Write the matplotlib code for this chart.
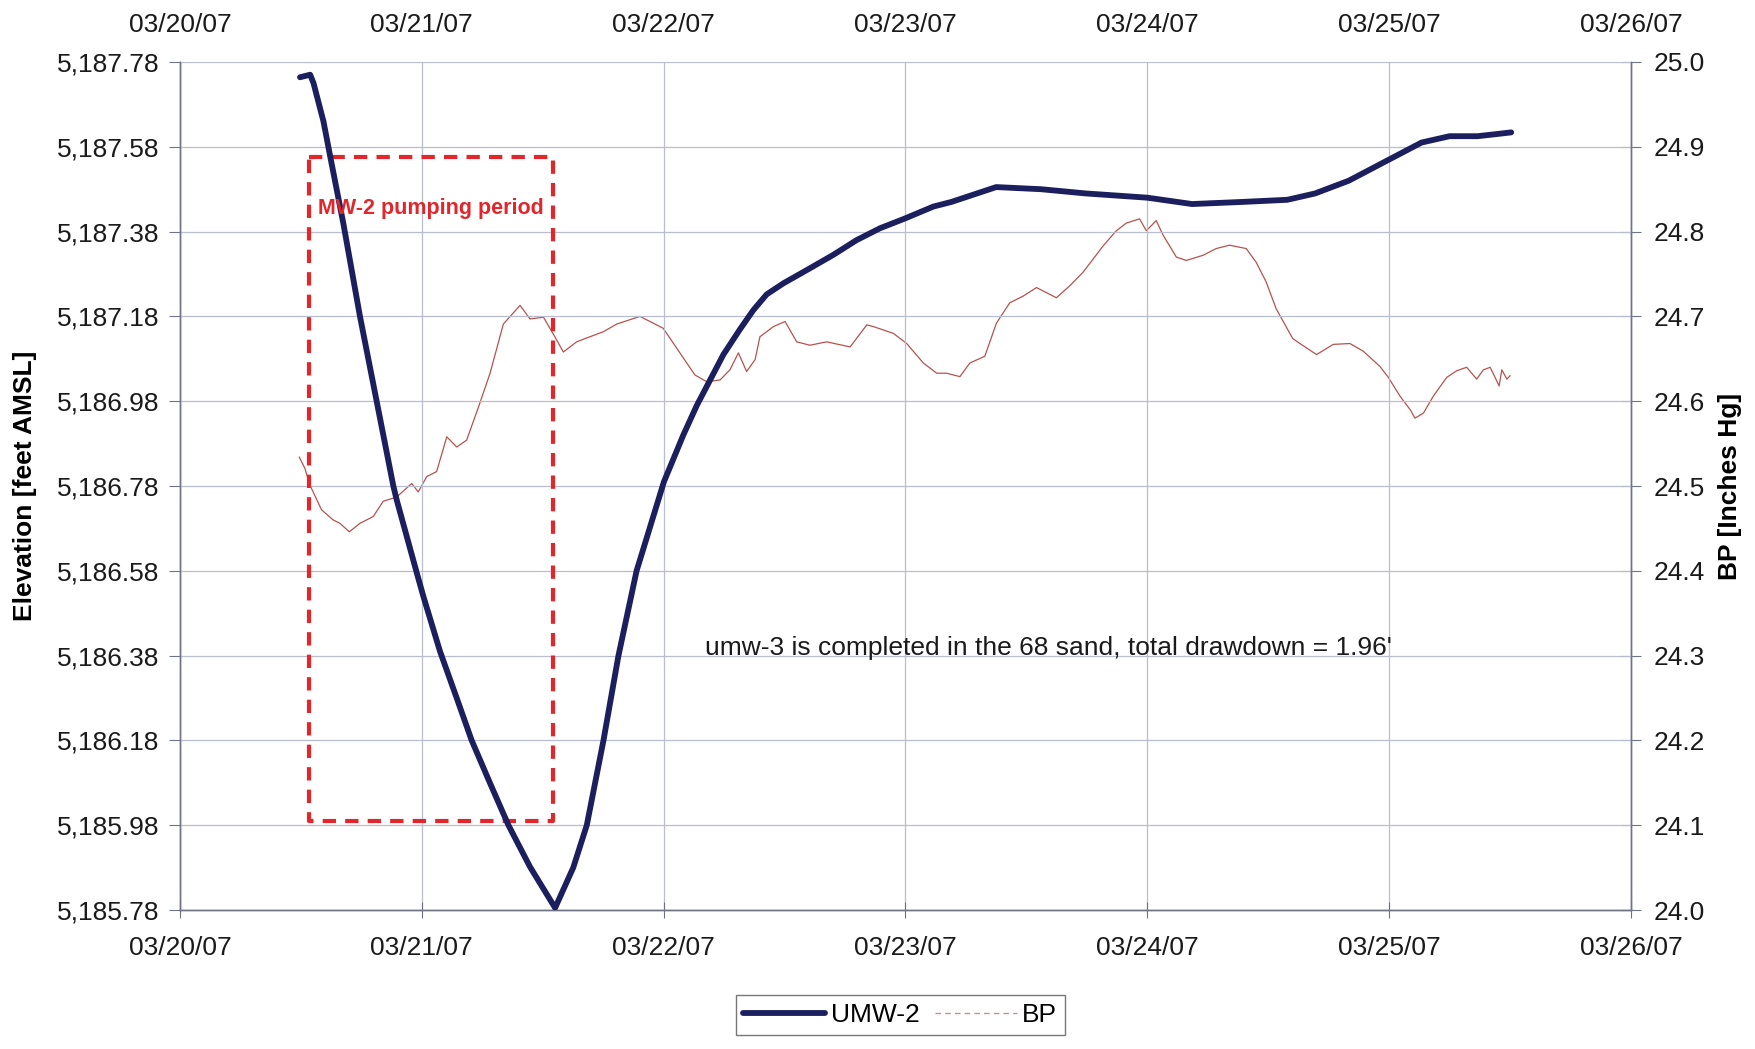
import matplotlib
matplotlib.use('Agg')
import matplotlib.pyplot as plt
import matplotlib.dates as mdates
import matplotlib.ticker as mtick
from matplotlib.lines import Line2D
import numpy as np
import pandas as pd

plt.rcParams['font.family'] = ['Liberation Sans', 'DejaVu Sans']

# ---data (days after 03/20/07 00:00)---
umw_days = [0.496, 0.538, 0.552, 0.593, 0.620, 0.675, 0.744, 0.813, 0.882, 0.896,
            0.979, 1.006, 1.075, 1.144, 1.206, 1.282, 1.358, 1.447, 1.551, 1.626,
            1.682, 1.751, 1.813, 1.888, 2.001, 2.081, 2.137, 2.192, 2.247, 2.316,
            2.371, 2.426, 2.495, 2.591, 2.701, 2.798, 2.895, 2.998, 3.115, 3.190,
            3.375, 3.560, 3.745, 4.000, 4.185, 4.394, 4.579, 4.694, 4.833, 5.000,
            5.134, 5.250, 5.366, 5.444, 5.505]
umw_elev = [5187.744, 5187.750, 5187.730, 5187.640, 5187.560, 5187.400, 5187.180,
            5186.980, 5186.780, 5186.747, 5186.575, 5186.520, 5186.390, 5186.280,
            5186.180, 5186.079, 5185.980, 5185.882, 5185.785, 5185.880, 5185.980,
            5186.180, 5186.380, 5186.580, 5186.790, 5186.900, 5186.970, 5187.030,
            5187.090, 5187.150, 5187.195, 5187.232, 5187.258, 5187.289, 5187.325,
            5187.360, 5187.388, 5187.411, 5187.439, 5187.450, 5187.485, 5187.480,
            5187.470, 5187.460, 5187.445, 5187.450, 5187.455, 5187.470, 5187.500,
            5187.550, 5187.590, 5187.605, 5187.605, 5187.610, 5187.614]

bp_days = [0.493, 0.516, 0.537, 0.585, 0.633, 0.661, 0.700, 0.744, 0.799, 0.840,
           0.896, 0.958, 0.985, 1.020, 1.061, 1.103, 1.144, 1.185, 1.234, 1.282,
           1.337, 1.406, 1.447, 1.503, 1.558, 1.585, 1.640, 1.695, 1.751, 1.806,
           1.902, 1.998, 2.067, 2.129, 2.178, 2.233, 2.274, 2.309, 2.343, 2.378,
           2.398, 2.454, 2.502, 2.550, 2.605, 2.674, 2.771, 2.840, 2.867, 2.950,
           3.005, 3.074, 3.129, 3.170, 3.225, 3.266, 3.328, 3.376, 3.431, 3.487,
           3.542, 3.624, 3.679, 3.734, 3.817, 3.872, 3.913, 3.968, 3.996, 4.037,
           4.065, 4.120, 4.161, 4.230, 4.285, 4.340, 4.409, 4.450, 4.491, 4.533,
           4.601, 4.631, 4.700, 4.769, 4.838, 4.893, 4.962, 4.997, 5.045, 5.087,
           5.107, 5.142, 5.183, 5.238, 5.280, 5.321, 5.362, 5.390, 5.418, 5.445,
           5.455, 5.466, 5.487, 5.500]
bp_inhg = [24.534, 24.521, 24.501, 24.472, 24.460, 24.456, 24.446, 24.456, 24.464, 24.482,
           24.487, 24.503, 24.493, 24.511, 24.517, 24.558, 24.546, 24.554, 24.593, 24.633,
           24.691, 24.713, 24.697, 24.699, 24.672, 24.658, 24.670, 24.676, 24.682, 24.691,
           24.700, 24.686, 24.657, 24.631, 24.623, 24.625, 24.637, 24.657, 24.635, 24.649,
           24.676, 24.688, 24.694, 24.670, 24.666, 24.670, 24.664, 24.690, 24.688, 24.680,
           24.668, 24.645, 24.633, 24.633, 24.629, 24.645, 24.653, 24.692, 24.716, 24.724,
           24.734, 24.722, 24.736, 24.752, 24.783, 24.801, 24.810, 24.815, 24.801, 24.813,
           24.796, 24.770, 24.766, 24.772, 24.780, 24.784, 24.780, 24.764, 24.741, 24.709,
           24.674, 24.668, 24.655, 24.667, 24.668, 24.659, 24.641, 24.628, 24.606, 24.590,
           24.580, 24.586, 24.606, 24.628, 24.636, 24.640, 24.626, 24.637, 24.640, 24.624,
           24.618, 24.637, 24.626, 24.630]

pump_start, pump_end = 0.535, 1.544
pump_top, pump_bottom = 5187.556, 5185.99

elev_ticks = [5185.78 + 0.2 * i for i in range(11)]
bp_ticks = [24.0 + 0.1 * i for i in range(11)]

t0 = pd.Timestamp('2007-03-20')
umw_t = t0 + pd.to_timedelta(umw_days, unit='D')
bp_t = t0 + pd.to_timedelta(bp_days, unit='D')

navy = '#1b1f5e'
bp_col = '#b5524f'
red = '#e3262b'
grid_col = '#b9bdd0'
spine_col = '#6f7386'
txt_col = '#1a1a1a'

fig = plt.figure(figsize=(17.55, 10.49), dpi=100)
ax1 = fig.add_axes([0.1026, 0.1325, 0.8267, 0.8084])
ax2 = ax1.twinx()
ax1.set_zorder(ax2.get_zorder() + 1)
ax1.patch.set_visible(False)

ax1.plot(umw_t, umw_elev, color=navy, lw=4.2, solid_capstyle='round',
         solid_joinstyle='round', zorder=3)
ax2.plot(bp_t, bp_inhg, color=bp_col, lw=0.9)

# pumping period box
bx = t0 + pd.to_timedelta([pump_start, pump_end, pump_end, pump_start, pump_start], unit='D')
by = [pump_top, pump_top, pump_bottom, pump_bottom, pump_top]
ax1.plot(bx, by, color=red, lw=3, linestyle=(0, (3.2, 2.2)), zorder=2)
ax1.text(t0 + pd.Timedelta(days=pump_start + 0.035), 5187.435, 'MW-2 pumping period',
         color=red, fontsize=15.5, fontweight='bold', va='center', ha='left')

ax1.text(t0 + pd.Timedelta(days=2.171), 5186.398,
         "umw-3 is completed in the 68 sand, total drawdown = 1.96'",
         fontsize=19, va='center', ha='left', color=txt_col)

# axes
date_fmt = mdates.DateFormatter('%m/%d/%y')
ax1.set_xlim(t0, t0 + pd.Timedelta(days=6))
ax1.set_ylim(5185.78, 5187.78)
ax2.set_ylim(24.0, 25.0)
ax1.xaxis.set_major_locator(mdates.DayLocator())
ax1.xaxis.set_major_formatter(date_fmt)
ax1.set_yticks(elev_ticks)
ax1.yaxis.set_major_formatter(mtick.FuncFormatter(lambda v, p: f'{v:,.2f}'))
ax2.set_yticks(bp_ticks)
ax2.yaxis.set_major_formatter(mtick.FuncFormatter(lambda v, p: f'{v:.1f}'))

top = ax1.secondary_xaxis('top')
top.xaxis.set_major_locator(mdates.DayLocator())
top.xaxis.set_major_formatter(date_fmt)
top.tick_params(length=0, labelsize=19, pad=18, labelcolor=txt_col)
top.spines['top'].set_visible(False)

ax1.tick_params(axis='x', direction='inout', length=12, labelsize=19, pad=13,
                color=spine_col, labelcolor=txt_col)
ax1.tick_params(axis='y', direction='out', length=8, labelsize=19, pad=7,
                color=spine_col, labelcolor=txt_col)
ax2.tick_params(axis='y', direction='inout', length=14, labelsize=19, pad=9,
                color=spine_col, labelcolor=txt_col)

ax1.grid(True, color=grid_col, lw=0.9)
for ax in (ax1, ax2):
    for s in ax.spines.values():
        s.set_color(spine_col)
        s.set_linewidth(1.0)
ax1.spines['top'].set_visible(False)
ax2.spines['top'].set_visible(False)

ax1.set_ylabel('Elevation [feet AMSL]', fontsize=19, fontweight='bold', labelpad=14)
ax2.set_ylabel('BP [Inches Hg]', fontsize=19, fontweight='bold', labelpad=10)

handles = [Line2D([], [], color=navy, lw=4.2, solid_capstyle='round'),
           Line2D([], [], color='#d08a8c', lw=1.0, linestyle=(0, (4, 3)))]
leg = fig.legend(handles, ['UMW-2', 'BP'], loc='center', bbox_to_anchor=(0.513, 0.0324),
                 ncol=2, fontsize=19, frameon=True, fancybox=False, handlelength=3.1,
                 handletextpad=0.2, columnspacing=0.6, borderpad=0.3, edgecolor='#555555')
leg.get_frame().set_linewidth(1.0)

fig.savefig('out.png', dpi=100)
